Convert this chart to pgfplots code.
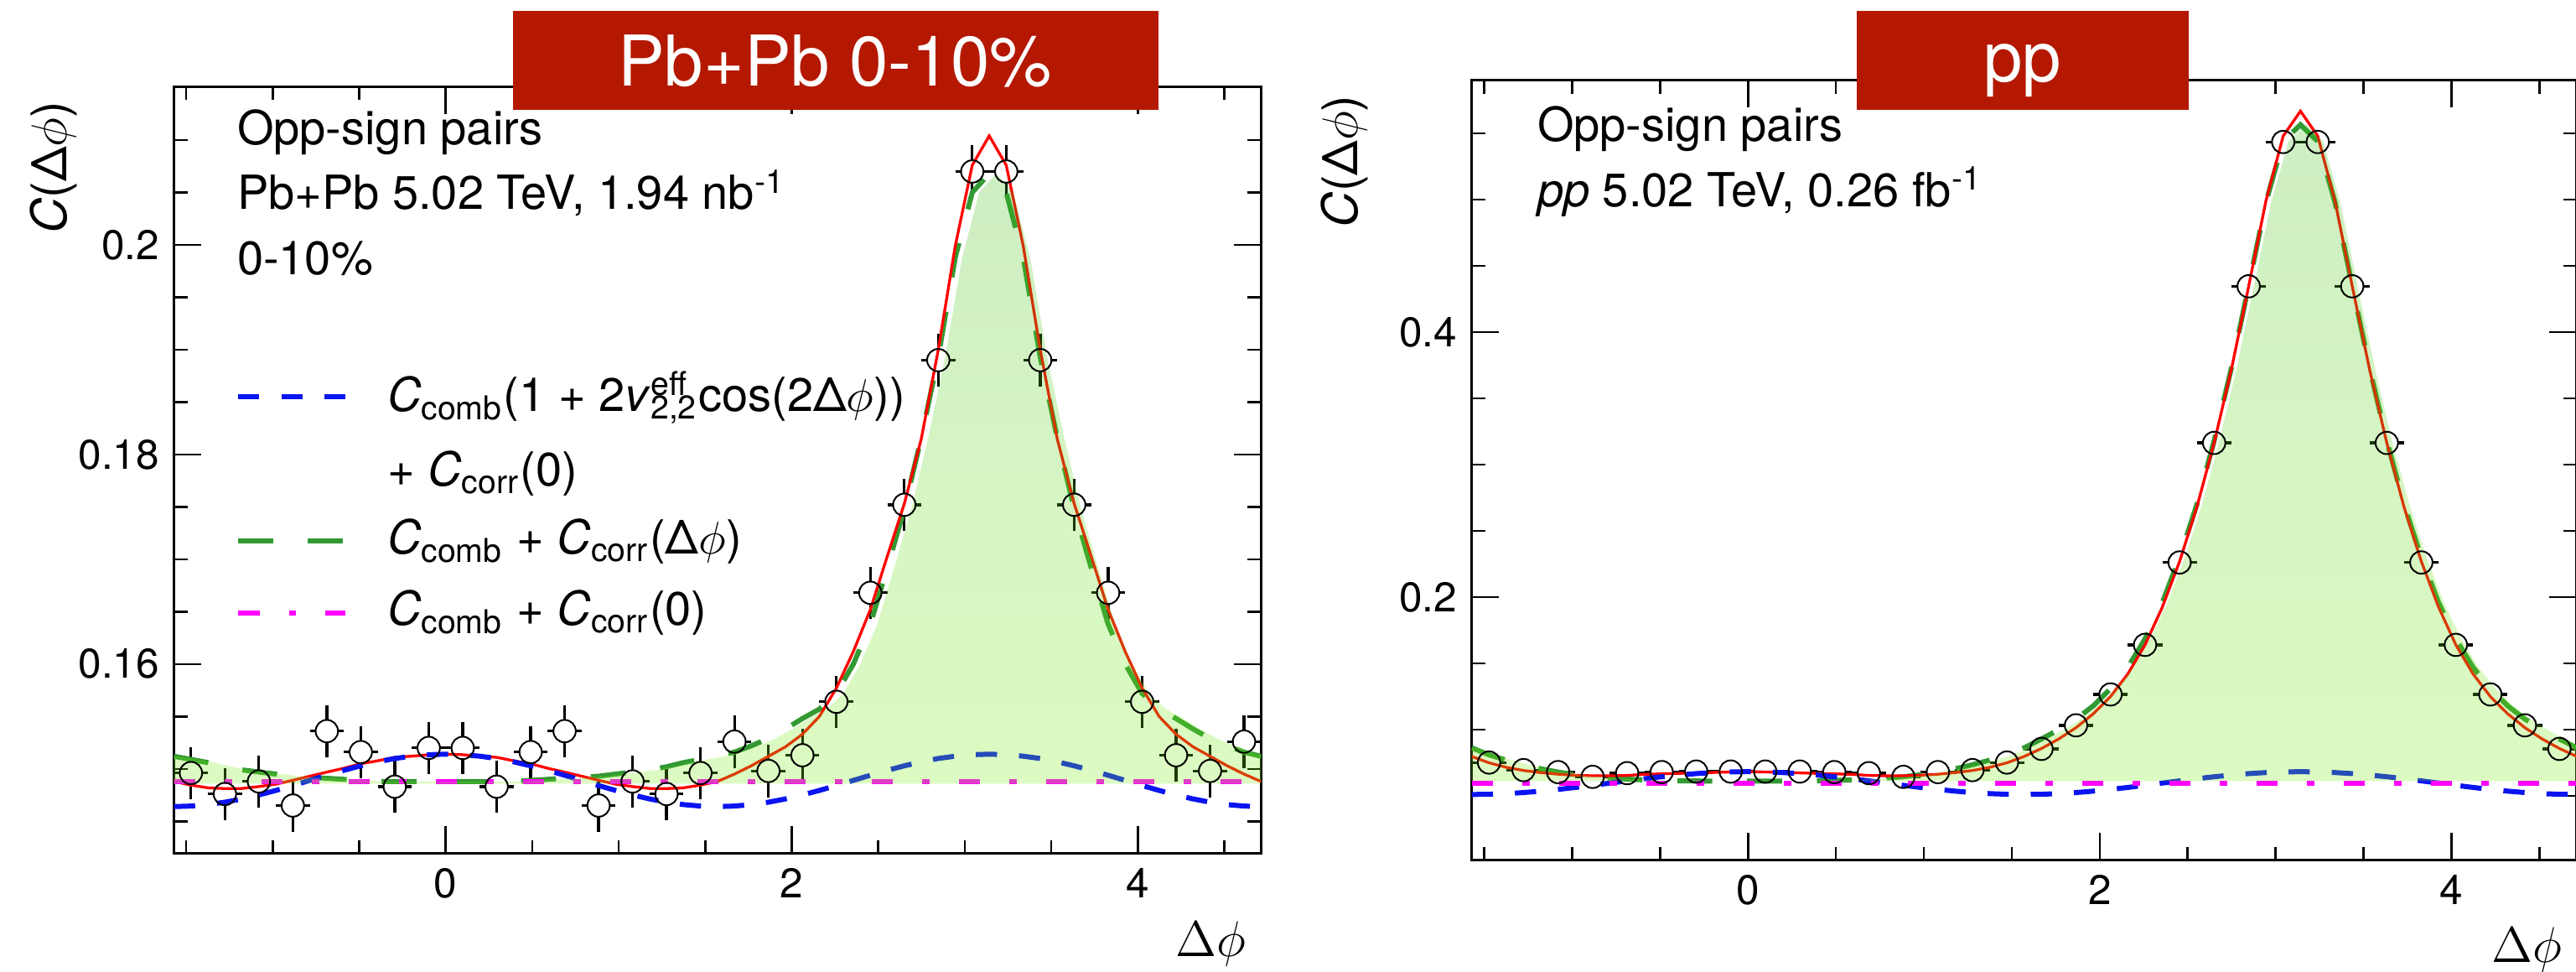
\documentclass[border=0pt]{standalone}
\usepackage{pgfplots}
\pgfplotsset{compat=1.18}
\usepackage{pgfplotstable}
\usepackage{fontspec}
\setmainfont{TeX Gyre Heros}
\definecolor{titlered}{RGB}{180,24,0}
\definecolor{fillG}{RGB}{120,240,20}
\definecolor{fillT}{RGB}{63,190,24}
\definecolor{curveG}{RGB}{51,153,51}
\definecolor{curveB}{RGB}{10,20,240}
\definecolor{curveM}{RGB}{255,0,255}
\definecolor{curveR}{RGB}{255,0,0}

\pgfplotstableread{
x bA rA gA bB rB gB
-1.5708 0.14640 0.14880 0.1512 0.05110 0.0798 0.0863
-1.4726 0.14645 0.14845 0.1509 0.05127 0.0750 0.0810
-1.3744 0.14659 0.14819 0.1506 0.05175 0.0716 0.0770
-1.2763 0.14682 0.14812 0.1502 0.05255 0.0692 0.0735
-1.1781 0.14713 0.14813 0.1499 0.05362 0.0676 0.0705
-1.0799 0.14751 0.14831 0.1497 0.05492 0.0664 0.0680
-0.9817 0.14794 0.14854 0.1495 0.05641 0.0656 0.0660
-0.8836 0.14841 0.14891 0.1493 0.05802 0.0652 0.0645
-0.7854 0.14890 0.14930 0.1492 0.05970 0.0652 0.0635
-0.6872 0.14939 0.14969 0.1491 0.06138 0.0655 0.0627
-0.5890 0.14986 0.15006 0.1490 0.06299 0.0663 0.0621
-0.4909 0.15029 0.15049 0.1489 0.06448 0.0667 0.0617
-0.3927 0.15067 0.15077 0.1488 0.06578 0.0670 0.0614
-0.2945 0.15099 0.15110 0.1488 0.06685 0.0674 0.0613
-0.1963 0.15121 0.15121 0.1488 0.06765 0.0677 0.0612
-0.0982 0.15135 0.15135 0.1488 0.06813 0.0681 0.0612
0.0000 0.15140 0.15140 0.1488 0.06830 0.0683 0.0612
0.0982 0.15135 0.15135 0.1488 0.06813 0.0681 0.0612
0.1963 0.15121 0.15121 0.1488 0.06765 0.0677 0.0612
0.2945 0.15099 0.15110 0.1488 0.06685 0.0674 0.0613
0.3927 0.15067 0.15077 0.1488 0.06578 0.0670 0.0614
0.4909 0.15029 0.15049 0.1489 0.06448 0.0667 0.0617
0.5890 0.14986 0.15006 0.1490 0.06299 0.0663 0.0621
0.6872 0.14939 0.14969 0.1491 0.06138 0.0655 0.0627
0.7854 0.14890 0.14930 0.1492 0.05970 0.0652 0.0635
0.8836 0.14841 0.14891 0.1493 0.05802 0.0652 0.0645
0.9817 0.14794 0.14854 0.1495 0.05641 0.0656 0.0660
1.0799 0.14751 0.14831 0.1497 0.05492 0.0664 0.0680
1.1781 0.14713 0.14813 0.1499 0.05362 0.0676 0.0705
1.2763 0.14682 0.14812 0.1502 0.05255 0.0692 0.0735
1.3744 0.14659 0.14819 0.1506 0.05175 0.0716 0.0770
1.4726 0.14645 0.14845 0.1509 0.05127 0.0750 0.0810
1.5708 0.14640 0.14880 0.1512 0.05110 0.0798 0.0863
1.6690 0.14645 0.14950 0.1516 0.05127 0.0858 0.0930
1.7671 0.14659 0.15030 0.1522 0.05175 0.0930 0.1000
1.8653 0.14682 0.15120 0.1529 0.05255 0.1015 0.1080
1.9635 0.14713 0.15210 0.1538 0.05362 0.1120 0.1180
2.0617 0.14751 0.15330 0.1548 0.05492 0.1250 0.1310
2.1598 0.14794 0.15500 0.1557 0.05641 0.1420 0.1470
2.2580 0.14841 0.15770 0.1572 0.05802 0.1640 0.1685
2.3562 0.14890 0.16120 0.1600 0.05970 0.1925 0.1960
2.4544 0.14939 0.16520 0.1638 0.06138 0.2270 0.2300
2.5525 0.14986 0.17030 0.1692 0.06299 0.2680 0.2700
2.6507 0.15029 0.17530 0.1748 0.06448 0.3164 0.3180
2.7489 0.15067 0.18150 0.1816 0.06578 0.3720 0.3730
2.8471 0.15099 0.19000 0.1893 0.06685 0.4346 0.4350
2.9452 0.15121 0.19990 0.1988 0.06765 0.4990 0.4980
3.0434 0.15135 0.20760 0.2050 0.06813 0.5480 0.5440
3.1416 0.15140 0.21040 0.2068 0.06830 0.5668 0.5565
3.2398 0.15135 0.20760 0.2050 0.06813 0.5480 0.5440
3.3379 0.15121 0.19990 0.1988 0.06765 0.4990 0.4980
3.4361 0.15099 0.19000 0.1893 0.06685 0.4346 0.4350
3.5343 0.15067 0.18150 0.1816 0.06578 0.3720 0.3730
3.6325 0.15029 0.17530 0.1748 0.06448 0.3164 0.3180
3.7306 0.14986 0.17030 0.1692 0.06299 0.2680 0.2700
3.8288 0.14939 0.16520 0.1638 0.06138 0.2270 0.2300
3.9270 0.14890 0.16120 0.1600 0.05970 0.1925 0.1960
4.0252 0.14841 0.15770 0.1572 0.05802 0.1640 0.1685
4.1233 0.14794 0.15500 0.1557 0.05641 0.1420 0.1470
4.2215 0.14751 0.15330 0.1548 0.05492 0.1250 0.1310
4.3197 0.14713 0.15210 0.1538 0.05362 0.1120 0.1180
4.4179 0.14682 0.15120 0.1529 0.05255 0.1015 0.1080
4.5160 0.14659 0.15030 0.1522 0.05175 0.0930 0.1000
4.6142 0.14645 0.14950 0.1516 0.05127 0.0858 0.0930
4.7124 0.14640 0.14880 0.1512 0.05110 0.0798 0.0863
}\curves

\pgfplotstableread{
x y
-1.4726 0.1496
-1.2763 0.1476
-1.0799 0.1488
-0.8836 0.1465
-0.6872 0.1536
-0.4909 0.1516
-0.2945 0.1483
-0.0982 0.1520
0.0982 0.1520
0.2945 0.1483
0.4909 0.1516
0.6872 0.1536
0.8836 0.1465
1.0799 0.1488
1.2763 0.1476
1.4726 0.1496
1.6690 0.1526
1.8653 0.1498
2.0617 0.1513
2.2580 0.1564
2.4544 0.1668
2.6507 0.1752
2.8471 0.1890
3.0434 0.2070
3.2398 0.2070
3.4361 0.1890
3.6325 0.1752
3.8288 0.1668
4.0252 0.1564
4.2215 0.1513
4.4179 0.1498
4.6142 0.1526
}\dataA

\pgfplotstableread{
x y
-1.4726 0.0752
-1.2763 0.0695
-1.0799 0.0680
-0.8836 0.0644
-0.6872 0.0672
-0.4909 0.0680
-0.2945 0.0684
-0.0982 0.0684
0.0982 0.0684
0.2945 0.0684
0.4909 0.0680
0.6872 0.0672
0.8836 0.0644
1.0799 0.0680
1.2763 0.0695
1.4726 0.0752
1.6690 0.0855
1.8653 0.1033
2.0617 0.1266
2.2580 0.1640
2.4544 0.2262
2.6507 0.3164
2.8471 0.4346
3.0434 0.5435
3.2398 0.5435
3.4361 0.4346
3.6325 0.3164
3.8288 0.2262
4.0252 0.1640
4.2215 0.1266
4.4179 0.1033
4.6142 0.0855
}\dataB

\tikzset{
  gline/.style={curveG, line width=1.2pt, dash pattern=on 8.33pt off 8.33pt},
  bline/.style={curveB, line width=1.2pt, dash pattern=on 5.07pt off 5.23pt},
  mline/.style={curveM, line width=1.13pt, dash pattern=on 5.13pt off 7pt on 1.67pt off 7pt},
  rline/.style={curveR, line width=0.66pt},
  gfill/.style={draw=none, top color=fillT, bottom color=fillG, fill opacity=0.26},
}
\pgfplotsset{
  myaxis/.style={
    scale only axis, anchor=south west,
    xmin=-1.5708, xmax=4.7124,
    tick align=inside, major tick length=6.5pt, minor tick length=3.2pt,
    xtick={0,2,4}, minor xtick={-1.5,-1,-0.5,0.5,1,1.5,2.5,3,3.5,4.5},
    axis line style={line width=0.6pt},
    tick style={black, line width=0.5pt},
    tick label style={font=\fontsize{9.9}{12}\selectfont},
    /pgf/number format/assume math mode=true,
    yticklabel style={/pgf/number format/fixed, /pgf/number format/precision=2},
    scaled y ticks=false,
    xlabel={$\Delta\phi$},
    xlabel style={font=\fontsize{11.7}{14}\selectfont, at={(axis description cs:1,0)}, anchor=base east, yshift=-24.4pt},
    ylabel={\textit{C}(Δ$\phi$)},
    ylabel style={font=\fontsize{11.7}{14}\selectfont, anchor=east},
  },
  ebar/.style={draw=none, mark=none, forget plot,
    error bars/error mark=none,
    error bars/error bar style={draw=black, line width=0.66pt, solid}},
  circ/.style={only marks, mark=o, mark size=2.67pt, mark options={line width=0.4pt, black, solid}},
}

\begin{document}
\begin{tikzpicture}
\useasboundingbox (0,0) rectangle (614.6pt,-231.8pt);

% ---------------- Pb+Pb ----------------
\begin{axis}[myaxis, at={(41.5pt,-203.6pt)}, width=259.36pt, height=182.94pt,
  ymin=0.1419, ymax=0.2151, ytick={0.16,0.18,0.2},
  minor ytick={0.145,0.15,0.155,0.165,0.17,0.175,0.185,0.19,0.195,0.205,0.21},
  ylabel style={at={(axis description cs:-0.111,1)}}]
  \addplot[ebar, error bars/y dir=plus, error bars/y fixed=0.00143] table[x=x, y expr=\thisrow{y}+0.00107] {\dataA};
  \addplot[ebar, error bars/y dir=minus, error bars/y fixed=0.00143] table[x=x, y expr=\thisrow{y}-0.00107] {\dataA};
  \addplot[ebar, error bars/x dir=plus, error bars/x fixed=0.0337] table[x expr=\thisrow{x}+0.0645, y=y] {\dataA};
  \addplot[ebar, error bars/x dir=minus, error bars/x fixed=0.0337] table[x expr=\thisrow{x}-0.0645, y=y] {\dataA};
  \addplot[circ] table[x=x, y=y] {\dataA};
  \addplot[gline] table[x=x, y=gA] {\curves};
  \addplot[rline] table[x=x, y=rA] {\curves};
  \addplot[bline] table[x=x, y=bA] {\curves};
  \addplot[mline] coordinates {(-1.5708,0.1488) (4.7124,0.1488)};
  \addplot[gfill] table[x expr=\thisrow{x}+0.04, y=gA] {\curves} -- (axis cs:4.76,0.1486) -- (axis cs:-1.5708,0.1486) -- (axis cs:-1.5708,0.1512) -- cycle;
\end{axis}

% ---------------- pp ----------------
\begin{axis}[myaxis, at={(351.14pt,-205.14pt)}, width=263.62pt, height=185.94pt,
  ymin=0.0015, ymax=0.5899, ytick={0.2,0.4},
  minor ytick={0.05,0.1,0.15,0.25,0.3,0.35,0.45,0.5,0.55},
  ylabel style={at={(axis description cs:-0.1155,1)}}]
  \addplot[ebar, error bars/x dir=plus, error bars/x fixed=0.0348] table[x expr=\thisrow{x}+0.0634, y=y] {\dataB};
  \addplot[ebar, error bars/x dir=minus, error bars/x fixed=0.0348] table[x expr=\thisrow{x}-0.0634, y=y] {\dataB};
  \addplot[circ] table[x=x, y=y] {\dataB};
  \addplot[gline] table[x=x, y=gB] {\curves};
  \addplot[rline] table[x=x, y=rB] {\curves};
  \addplot[bline] table[x=x, y=bB] {\curves};
  \addplot[mline] coordinates {(-1.5708,0.0595) (4.7124,0.0595)};
  \addplot[gfill] table[x expr=\thisrow{x}+0.03, y=gB] {\curves} -- (axis cs:4.76,0.0612) -- (axis cs:-1.5708,0.0612) -- (axis cs:-1.5708,0.0863) -- cycle;
\end{axis}

% ---------------- texts ----------------
\begin{scope}[every node/.style={font=\fontsize{11.2}{13.4}\selectfont, inner sep=0pt, anchor=base west}]
  \node at (56.4pt,-34.6pt) {Opp-sign pairs};
  \node at (56.4pt,-50pt) {Pb+Pb 5.02 TeV, 1.94 nb\textsuperscript{-1}};
  \node at (56.4pt,-65.5pt) {0-10\%};
  \node at (366.6pt,-33.66pt) {Opp-sign pairs};
  \node at (366.6pt,-49.3pt) {\textit{pp} 5.02 TeV, 0.26 fb\textsuperscript{-1}};
  % legend
  \node at (92.2pt,-98.2pt) {\textit{C}\textsubscript{comb}(1 + 2\textit{v}\rlap{\textsuperscript{eff}}\textsubscript{2,2}cos(2Δ$\phi$))};
  \node at (92.2pt,-116pt) {+ \textit{C}\textsubscript{corr}(0)};
  \node at (92.2pt,-132.2pt) {\textit{C}\textsubscript{comb} + \textit{C}\textsubscript{corr}(Δ$\phi$)};
  \node at (92.2pt,-149.2pt) {\textit{C}\textsubscript{comb} + \textit{C}\textsubscript{corr}(0)};
\end{scope}
\draw[bline] (56.8pt,-94.6pt) -- (82.4pt,-94.6pt);
\draw[gline] (56.8pt,-129pt) -- (82.4pt,-129pt);
\draw[mline] (56.8pt,-146.2pt) -- (82.4pt,-146.2pt);

% ---------------- title boxes ----------------
\fill[titlered] (122.4pt,-2.6pt) rectangle (276.4pt,-26.2pt);
\node[white, font=\fontsize{16.7}{19}\selectfont, inner sep=0pt, anchor=base] at (199.2pt,-20.54pt) {Pb+Pb 0-10\%};
\fill[titlered] (442.9pt,-2.6pt) rectangle (522.2pt,-26.2pt);
\node[white, font=\fontsize{16.7}{19}\selectfont, inner sep=0pt, anchor=base] at (482.5pt,-19.6pt) {pp};
\end{tikzpicture}
\end{document}
